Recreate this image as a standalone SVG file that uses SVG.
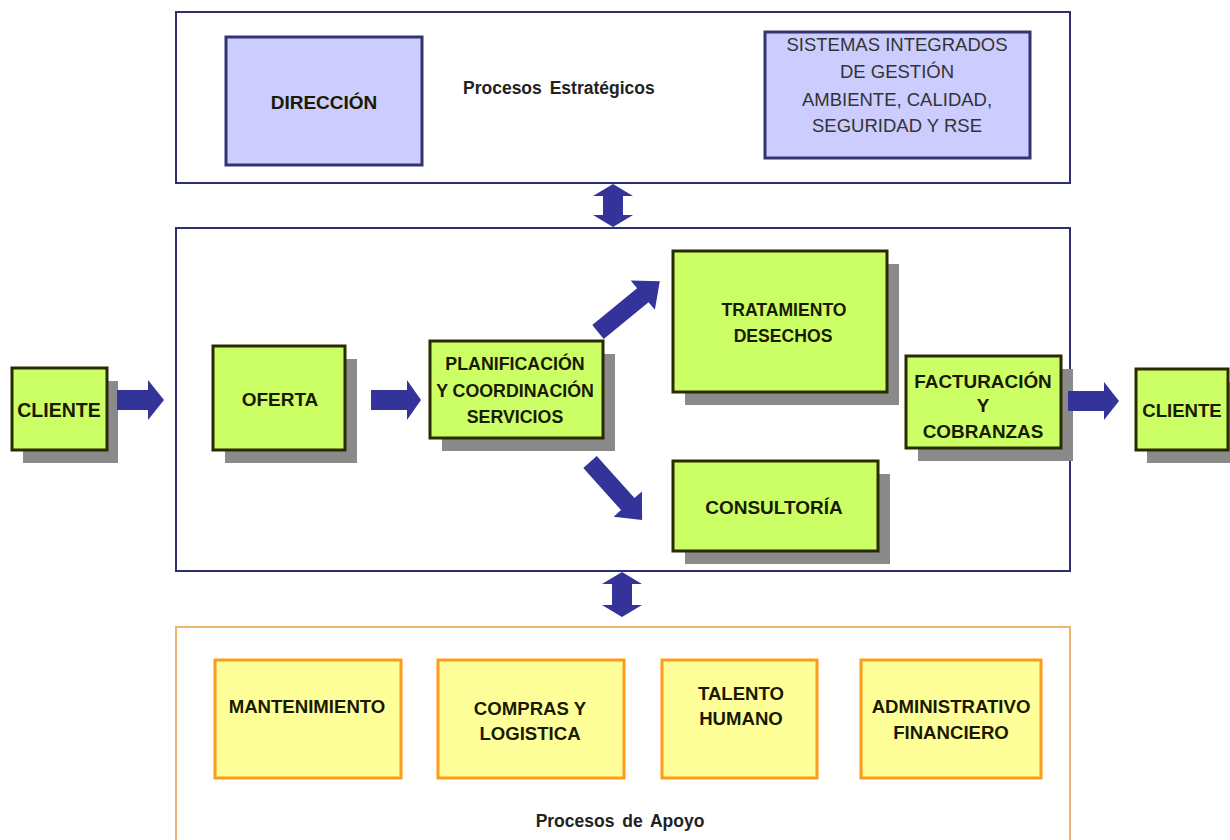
<svg xmlns="http://www.w3.org/2000/svg" width="1230" height="840" viewBox="0 0 1230 840">
<style>
.panel{fill:#ffffff;stroke:#2e2e72;stroke-width:2}
.panelA{fill:#ffffff;stroke:#efb474;stroke-width:2}
.lav{fill:#ccccff;stroke:#333370;stroke-width:3}
.grn{fill:#ccff66;stroke:#2a2a00;stroke-width:3}
.yel{fill:#ffff99;stroke:#ff9a1a;stroke-width:3}
.sh{fill:#8a8a8a}
.arr{fill:#333399}
.t{font-family:"Liberation Sans",Arial,sans-serif;font-weight:bold;fill:#1a1a00;text-anchor:middle}
.tl{font-family:"Liberation Sans",Arial,sans-serif;font-weight:normal;fill:#333333;text-anchor:middle;font-size:18.5px}
.lbl{font-family:"Liberation Sans",Arial,sans-serif;font-weight:bold;fill:#222222;font-size:17.5px;word-spacing:3px}
</style>
<defs>
<polygon id="diag" points="0,-9 58,-9 58,-19 80,0 58,19 58,9 0,9"/>
</defs>
<g id="estrategicos">
<rect class="panel" x="176" y="12" width="894" height="171"/>
<text class="lbl" x="463" y="94">Procesos Estratégicos</text>
</g>
<g id="direccion">
<rect class="lav" x="226" y="37" width="196" height="128"/>
<text class="t" x="324" y="109" font-size="19">DIRECCIÓN</text>
</g>
<g id="sgi">
<rect class="lav" x="765" y="32" width="265" height="126"/>
<text class="tl" x="897" y="51">SISTEMAS INTEGRADOS</text>
<text class="tl" x="897" y="78">DE GESTIÓN</text>
<text class="tl" x="897" y="106">AMBIENTE, CALIDAD,</text>
<text class="tl" x="897" y="132">SEGURIDAD Y RSE</text>
</g>
<g id="operativos">
<rect class="panel" x="176" y="228" width="894" height="343"/>
</g>
<g id="apoyo">
<rect class="panelA" x="176" y="627" width="894" height="220"/>
<text class="lbl" x="620" y="827" text-anchor="middle">Procesos de Apoyo</text>
</g>
<g id="cliente1">
<rect class="sh" x="23" y="381" width="95" height="82"/>
<rect class="grn" x="12" y="368" width="95" height="82"/>
<text class="t" x="59" y="417" font-size="19.5">CLIENTE</text>
</g>
<g id="oferta">
<rect class="sh" x="225" y="359" width="132" height="104"/>
<rect class="grn" x="213" y="346" width="132" height="104"/>
<text class="t" x="280" y="406" font-size="19">OFERTA</text>
</g>
<g id="planificacion">
<rect class="sh" x="442" y="354" width="173" height="97"/>
<rect class="grn" x="430" y="341" width="173" height="97"/>
<text class="t" x="515" y="370" font-size="17.8">PLANIFICACIÓN</text>
<text class="t" x="515" y="397" font-size="17.8">Y COORDINACIÓN</text>
<text class="t" x="515" y="423" font-size="17.8">SERVICIOS</text>
</g>
<g id="tratamiento">
<rect class="sh" x="685" y="264" width="214" height="141"/>
<rect class="grn" x="673" y="251" width="214" height="141"/>
<text class="t" x="784" y="316" font-size="17.6">TRATAMIENTO</text>
<text class="t" x="783" y="342" font-size="17.6">DESECHOS</text>
</g>
<g id="consultoria">
<rect class="sh" x="685" y="474" width="205" height="90"/>
<rect class="grn" x="673" y="461" width="205" height="90"/>
<text class="t" x="774" y="514" font-size="19">CONSULTORÍA</text>
</g>
<g id="facturacion">
<rect class="sh" x="918" y="369" width="155" height="92"/>
<rect class="grn" x="906" y="356" width="155" height="92"/>
<text class="t" x="983" y="388" font-size="18.9">FACTURACIÓN</text>
<text class="t" x="983" y="412" font-size="18.9">Y</text>
<text class="t" x="983" y="438" font-size="18.9">COBRANZAS</text>
</g>
<g id="cliente2">
<rect class="sh" x="1147" y="382" width="92" height="81"/>
<rect class="grn" x="1136" y="369" width="92" height="81"/>
<text class="t" x="1182" y="417" font-size="18.6">CLIENTE</text>
</g>
<g id="mantenimiento">
<rect class="yel" x="215" y="660" width="186" height="118"/>
<text class="t" x="307" y="713" font-size="18.6">MANTENIMIENTO</text>
</g>
<g id="compras">
<rect class="yel" x="438" y="660" width="186" height="118"/>
<text class="t" x="530" y="715" font-size="18.6">COMPRAS Y</text>
<text class="t" x="530" y="740" font-size="18.6">LOGISTICA</text>
</g>
<g id="talento">
<rect class="yel" x="662" y="660" width="155" height="118"/>
<text class="t" x="741" y="700" font-size="18.6">TALENTO</text>
<text class="t" x="741" y="725" font-size="18.6">HUMANO</text>
</g>
<g id="administrativo">
<rect class="yel" x="861" y="660" width="180" height="118"/>
<text class="t" x="951" y="713" font-size="18.6">ADMINISTRATIVO</text>
<text class="t" x="951" y="739" font-size="18.6">FINANCIERO</text>
</g>
<g id="connectors">
<polygon class="arr" points="613,184 633,196 623,196 623,215 633,215 613,227 593,215 603,215 603,196 593,196"/>
<polygon class="arr" points="622,572 642,584 632,584 632,605 642,605 622,617 602,605 612,605 612,584 602,584"/>
<polygon class="arr" points="117,390 148,390 148,380 164,400 148,420 148,410 117,410"/>
<polygon class="arr" points="371,390 407,390 407,380 421,400 407,420 407,410 371,410"/>
<polygon class="arr" points="1068,391 1104,391 1104,382 1119,401 1104,420 1104,411 1068,411"/>
<use href="#diag" class="arr" transform="translate(598,332) rotate(-39.4)"/>
<use href="#diag" class="arr" transform="translate(590,462) rotate(48.1) scale(0.975,1)"/>
</g>
</svg>
